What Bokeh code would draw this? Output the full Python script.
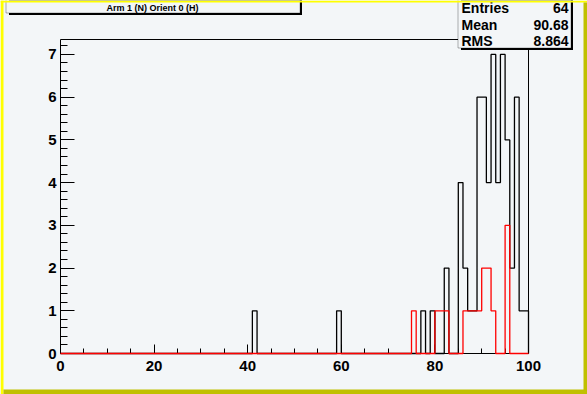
import numpy as np
from bokeh.plotting import figure
from bokeh.models import Range1d, FixedTicker, LinearAxis, BoxAnnotation, Label
from bokeh.embed import file_html
from bokeh.resources import INLINE

# ---------------- data ----------------
x_lo, x_hi, n_bins = 0, 100, 100
y_lo, y_hi = 0, 7.35

black_bin_left = [41, 59, 77, 79, 82, 85, 86, 87, 88, 89, 90, 91, 92, 93, 94, 95, 96, 97, 98, 99]
black_counts   = [1, 1, 1, 1, 2, 4, 2, 1, 1, 6, 6, 4, 7, 4, 7, 5, 2, 6, 1, 1]

red_bin_left = [75, 80, 81, 82, 86, 87, 88, 89, 90, 91, 92, 95]
red_counts   = [1, 1, 1, 1, 1, 1, 1, 1, 2, 2, 1, 3]

title_text = "Arm 1 (N) Orient 0 (H)"
stats_names = ["Entries", "Mean", "RMS"]
stats_values = ["64", "90.68", "8.864"]

x_major = [0, 20, 40, 60, 80, 100]
x_minor = [0, 5, 10, 15, 20, 25, 30, 35, 40, 45, 50, 55, 60, 65, 70, 75, 80, 85, 90, 95, 100]
y_major = [0, 1, 2, 3, 4, 5, 6, 7]
y_minor = [round(v * 0.2, 1) for v in range(0, 37)]

# ---------------- layout (pixels) ----------------
W, H = 587, 394
FL, FR, FT, FB = 60, 528, 39, 353       # histogram frame edges on the canvas
BG = "#f3f6f8"
FONT = "Liberation Sans"
YEL = "#ffff00"
OLIVE = "#c0c000"

# whole canvas is the bokeh frame; map data so that [0,100]x[0,7.35] lands on the ROOT frame
sx = (FR - FL) / (x_hi - x_lo)
sy = (FB - FT) / (y_hi - y_lo)
xr = Range1d(x_lo - FL / sx, x_hi + (W - FR) / sx)
yr = Range1d(y_lo - (H - FB) / sy, y_hi + FT / sy)

edges = np.linspace(x_lo, x_hi, n_bins + 1)


def step_y(lefts, counts):
    full = np.zeros(n_bins)
    for l, c in zip(lefts, counts):
        full[int(l - x_lo)] = c
    return np.append(full, 0.0)


p = figure(width=W, height=H, x_range=xr, y_range=yr,
           output_backend="svg", toolbar_location=None, x_axis_location=None, y_axis_location=None,
           min_border=0, min_border_left=0, min_border_right=0, min_border_top=0, min_border_bottom=0,
           background_fill_color=BG, border_fill_color=BG, outline_line_color=None)
p.grid.visible = False


def make_axis(ticks, minor, tick_in, minor_in, standoff, loc, bounds, labels=True):
    ax = LinearAxis(ticker=FixedTicker(ticks=ticks, minor_ticks=minor), fixed_location=loc, bounds=bounds,
                    axis_line_color="black", axis_line_width=1,
                    major_tick_line_color="black", minor_tick_line_color="black",
                    major_tick_in=tick_in, major_tick_out=0, minor_tick_in=minor_in, minor_tick_out=0,
                    major_label_text_font=FONT, major_label_text_font_style="bold",
                    major_label_text_font_size="15px" if labels else "0px",
                    major_label_text_color="black", major_label_standoff=standoff)
    return ax


p.add_layout(make_axis(x_major, x_minor, 9, 5, 7, y_lo, (x_lo, x_hi)), "below")
p.add_layout(make_axis(y_major, y_minor, 14, 7, 4, x_lo, (y_lo, y_hi)), "left")
p.add_layout(make_axis([], [], 0, 0, 0, y_hi, (x_lo, x_hi), labels=False), "above")
p.add_layout(make_axis([], [], 0, 0, 0, x_hi, (y_lo, y_hi), labels=False), "right")

p.step(x=edges, y=step_y(black_bin_left, black_counts), mode="after",
       line_color="black", line_width=1.3)
p.step(x=edges, y=step_y(red_bin_left, red_counts), mode="after",
       line_color="#ff0000", line_width=1.3, level="overlay")


def box(l, r, t, b, **kw):
    p.add_layout(BoxAnnotation(left=l, right=r, top=t, bottom=b,
                               left_units="canvas", right_units="canvas",
                               top_units="canvas", bottom_units="canvas", level="overlay", **kw))


def pave(l, r, t, b):
    box(l + 3, r + 2, t + 3, b + 2, fill_color="black", fill_alpha=1, line_color=None)
    box(l, r, t, b, fill_color=BG, fill_alpha=1, line_color="black", line_width=1)


def text(x, y, s, size, align):
    p.add_layout(Label(x=x, y=y, x_units="canvas", y_units="canvas", text=s, level="overlay",
                       text_font=FONT, text_font_style="bold", text_font_size=size,
                       text_align=align, text_baseline="alphabetic", text_color="black"))


# title pave
pave(5.5, 299.5, -5, 12.5)
text(152, 7.5, title_text, "9px", "center")

# stats pave
pave(457.5, 570.5, -5, 47.5)
rows_y = [7.5, 24, 40.5]
for name, val, yy in zip(stats_names, stats_values, rows_y):
    text(461, yy, name, "14px", "left")
    text(568, yy, val, "14px", "right")

# canvas bevel
box(0, W, 0, 2, fill_color=YEL, fill_alpha=1, line_color=None)
box(0, 3, 0, H, fill_color=YEL, fill_alpha=1, line_color=None)
box(W - 4, W, 2, H, fill_color=OLIVE, fill_alpha=1, line_color=None)
box(3, W, H - 5, H, fill_color=OLIVE, fill_alpha=1, line_color=None)

open("out.html", "w").write(file_html(p, INLINE))
